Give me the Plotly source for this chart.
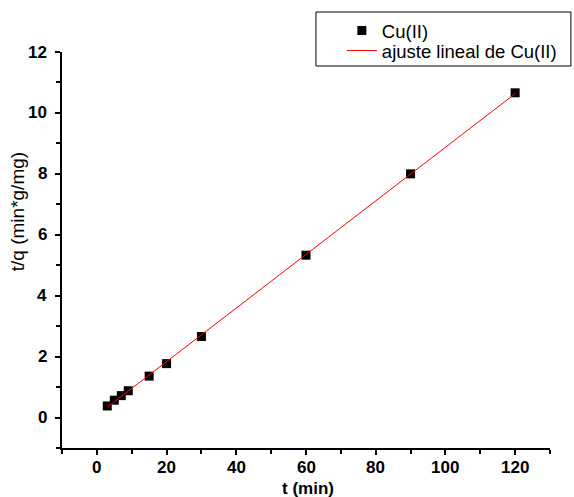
import numpy as np
import plotly.graph_objects as go

t_min = [3, 5, 7, 9, 15, 20, 30, 60, 90, 120]
t_over_q = [0.38, 0.57, 0.72, 0.88, 1.36, 1.77, 2.66, 5.33, 8.00, 10.66]
x_ticks = [0, 20, 40, 60, 80, 100, 120]
y_ticks = [0, 2, 4, 6, 8, 10, 12]

slope, intercept = np.polyfit(t_min, t_over_q, 1)
fit_x = [min(t_min), max(t_min)]
fit_y = [slope * x + intercept for x in fit_x]

FONT = "Liberation Sans, Arial, sans-serif"

# plot area in pixels: x 62..552, y 52..448
L, R, T, B = 62, 552, 52, 448
def px(x):
    return (x - L) / (R - L)
def py(y):
    return (B - y) / (B - T)

fig = go.Figure()
fig.add_trace(go.Scatter(x=t_min, y=t_over_q, mode="markers", name="Cu(II)",
                         marker=dict(symbol="square", size=9, color="black",
                                     line=dict(width=0)), legend="legend"))
fig.add_trace(go.Scatter(x=fit_x, y=fit_y, mode="lines", name="ajuste lineal de Cu(II)",
                         line=dict(color="red", width=1), legend="legend2"))

axis_common = dict(showline=True, linecolor="black", linewidth=2, ticks="outside",
                   ticklen=5, tickwidth=2, tickcolor="black", showgrid=False,
                   zeroline=False, mirror=False, automargin=False,
                   showticklabels=False)

legend_common = dict(xanchor="left", yanchor="middle", borderwidth=0,
                     bgcolor="rgba(0,0,0,0)", font=dict(size=18.5, family=FONT, color="black"),
                     itemwidth=30)

tick_font = dict(size=17, family=FONT, color="black")
tick_labels = (
    [dict(text=f"<b>{v}</b>", xref="x", yref="paper", x=v, y=py(467.5),
          xanchor="center", yanchor="middle", showarrow=False, font=tick_font)
     for v in x_ticks]
    + [dict(text=f"<b>{v}</b>", xref="paper", yref="y", x=px(49), y=v,
            xanchor="right", yanchor="middle", showarrow=False, font=tick_font)
       for v in y_ticks]
)

fig.update_layout(
    width=574, height=497,
    margin=dict(l=L, r=574 - R, t=T, b=497 - B),
    paper_bgcolor="white", plot_bgcolor="white",
    font=dict(family=FONT, color="black"),
    xaxis=dict(range=[-10, 130], tickvals=x_ticks,
               minor=dict(ticks="outside", ticklen=4, tickwidth=1.5, tickcolor="black", dtick=10,
                          tick0=-10),
               **axis_common),
    yaxis=dict(range=[-1, 12], tickvals=y_ticks,
               minor=dict(ticks="outside", ticklen=4, tickwidth=1.5, tickcolor="black", dtick=1,
                          tick0=-1),
               **axis_common),
    legend=dict(x=px(343), y=py(31), **legend_common),
    legend2=dict(x=px(343), y=py(51), **legend_common),
    shapes=[dict(type="rect", xref="paper", yref="paper",
                 x0=px(317), x1=px(573), y0=py(66), y1=py(12),
                 line=dict(color="black", width=1), fillcolor="rgba(0,0,0,0)")],
    annotations=tick_labels + [
        dict(text="t/q (min*g/mg)", textangle=-90, xref="paper", yref="paper",
             x=px(17), y=py(212), xanchor="center", yanchor="middle",
             showarrow=False, font=dict(size=19, family=FONT, color="black")),
        dict(text="<b>t (min)</b>", xref="paper", yref="paper",
             x=px(309), y=py(488), xanchor="center", yanchor="middle",
             showarrow=False, font=dict(size=17, family=FONT, color="black")),
    ],
    showlegend=True,
)

fig.write_html("out.html")
